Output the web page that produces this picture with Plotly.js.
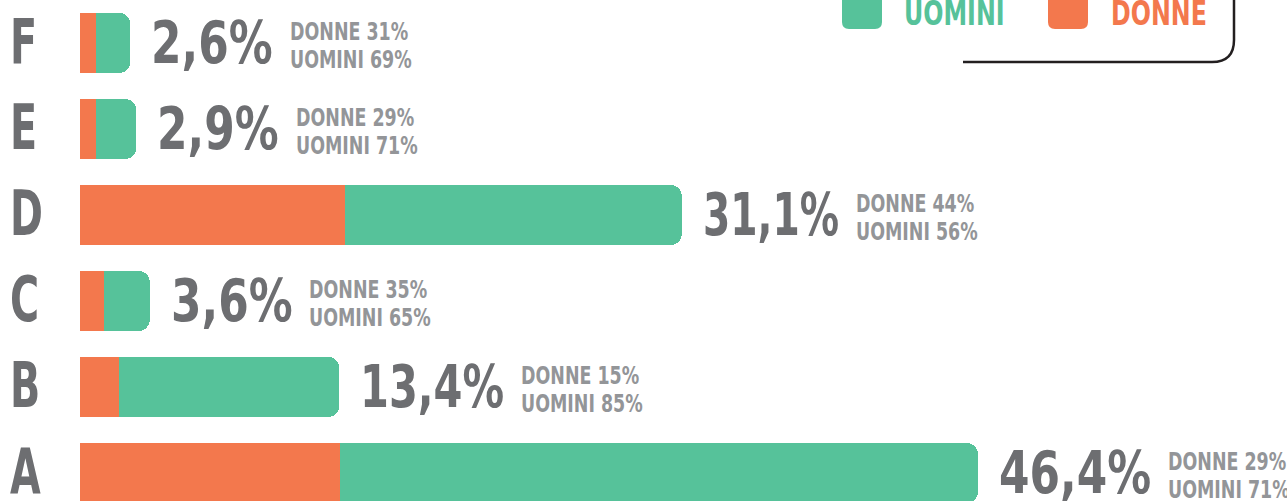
<!DOCTYPE html>
<html><head><meta charset="utf-8">
<script src="https://cdn.plot.ly/plotly-3.0.1.min.js"></script>
<style>html,body{margin:0;padding:0;background:#fff;overflow:hidden}#chart{width:1287px;height:501px;}</style>
</head><body><div id="chart"></div>
<script>
// ---- data ----
const categories = ['A', 'B', 'C', 'D', 'E', 'F'];
const totals = [46.4, 13.4, 3.6, 31.1, 2.9, 2.6];
const donneShare = [29, 15, 35, 44, 29, 31];
const uominiShare = [71, 85, 65, 56, 71, 69];
const seriesNames = ['DONNE', 'UOMINI'];
const legendOrder = ['UOMINI', 'DONNE'];

// ---- style ----
const W = 1287, H = 501;
const FONT = '"DejaVu Sans Condensed", "DejaVu Sans", sans-serif';
const ORANGE = '#f3784d', GREEN = '#56c29a', DARK = '#6d6e71', GREY = '#939598', LINE = '#231f20';
const PXU = 19.35, X0 = 80;
const BIG_SIZE = 58, SMALL_SIZE = 25, CAT_SIZE = 63, LEG_SIZE = 33;
const F_BIG = 0.84, F_SMALL = 0.775, F_CAT = 0.7, F_LEG = 0.8;
const ONE_NARROW = 8;   // the reference typeface has narrow "1" digits
const BIG_SHIFT = 19, GAP = 16;

const fmt = v => v.toFixed(1).replace('.', ',') + '%';
const donneVals = totals.map((t, i) => t * donneShare[i] / 100);
const uominiVals = totals.map((t, i) => t * uominiShare[i] / 100);
const px = x => x / W, py = y => 1 - y / H;

const traces = [
  { type: 'bar', orientation: 'h', name: seriesNames[0], y: categories, x: donneVals,
    marker: { color: ORANGE, line: { width: 0 } }, hoverinfo: 'skip' },
  { type: 'bar', orientation: 'h', name: seriesNames[1], y: categories, x: uominiVals,
    marker: { color: GREEN, line: { width: 0 } }, hoverinfo: 'skip' }
];

const annotations = [];
const role = {};
const bigIdx = [];
function add(a, r) { role[annotations.length] = r; annotations.push(Object.assign({ showarrow: false, align: 'left', borderpad: 0 }, a)); }

categories.forEach((c, i) => {
  add({ xref: 'paper', x: px(9), yref: 'y', y: c, xanchor: 'left', yanchor: 'middle', yshift: 2, text: c,
    font: { family: FONT, size: CAT_SIZE, color: DARK, weight: 'bold' } }, 'cat');
  bigIdx.push(annotations.length);
  add({ xref: 'x', x: totals[i], yref: 'y', y: c, xanchor: 'left', yanchor: 'middle', xshift: BIG_SHIFT + 1,
    text: fmt(totals[i]), font: { family: FONT, size: BIG_SIZE, color: DARK, weight: 'bold' } }, 'big');
  add({ xref: 'x', x: totals[i], yref: 'y', y: c, xanchor: 'left', yanchor: 'middle', xshift: 200, yshift: 12,
    text: seriesNames[0] + ' ' + donneShare[i] + '%', font: { family: FONT, size: SMALL_SIZE, color: GREY, weight: 'bold' } }, 'small');
  add({ xref: 'x', x: totals[i], yref: 'y', y: c, xanchor: 'left', yanchor: 'middle', xshift: 200, yshift: -16,
    text: seriesNames[1] + ' ' + uominiShare[i] + '%', font: { family: FONT, size: SMALL_SIZE, color: GREY, weight: 'bold' } }, 'small');
});

// legend (custom drawn)
const legX = [903, 1110], legColors = [GREEN, ORANGE];
legendOrder.forEach((n, k) => {
  add({ xref: 'paper', yref: 'paper', x: px(legX[k]), y: py(13), xanchor: 'left', yanchor: 'middle',
    text: n, font: { family: FONT, size: LEG_SIZE, color: legColors[k], weight: 'bold' } }, 'leg');
});
function rrect(x0, y0, x1, y1, r) {
  return 'M' + px(x0) + ',' + py(y0) + ' L' + px(x1) + ',' + py(y0) +
    ' L' + px(x1) + ',' + py(y1 - r) + ' Q' + px(x1) + ',' + py(y1) + ' ' + px(x1 - r) + ',' + py(y1) +
    ' L' + px(x0 + r) + ',' + py(y1) + ' Q' + px(x0) + ',' + py(y1) + ' ' + px(x0) + ',' + py(y1 - r) + ' Z';
}
const shapes = [
  { type: 'path', xref: 'paper', yref: 'paper', path: rrect(842, -12, 882, 29, 7), fillcolor: GREEN, line: { width: 0 } },
  { type: 'path', xref: 'paper', yref: 'paper', path: rrect(1048, -12, 1088, 29, 7), fillcolor: ORANGE, line: { width: 0 } },
  { type: 'path', xref: 'paper', yref: 'paper',
    path: 'M' + px(1234) + ',' + py(-2) + ' L' + px(1234) + ',' + py(40) + ' Q' + px(1234) + ',' + py(62) + ' ' + px(1212) + ',' + py(62) +
      ' L' + px(963) + ',' + py(62), line: { color: LINE, width: 2.5 } }
];

const layout = {
  width: W, height: H, margin: { l: 0, r: 0, t: 0, b: 0 },
  paper_bgcolor: '#ffffff', plot_bgcolor: '#ffffff',
  barmode: 'stack', bargap: 0.302, barcornerradius: 11, showlegend: false,
  xaxis: { range: [-X0 / PXU, (W - X0) / PXU], visible: false, fixedrange: true },
  yaxis: { type: 'category', range: [-0.3256, 5.5], visible: false, fixedrange: true },
  annotations, shapes
};
const factor = { cat: F_CAT, big: F_BIG, small: F_SMALL, leg: F_LEG };

function groupsOf(gd) {
  const t = {};
  gd.querySelectorAll('g.annotation').forEach(g => { t[+g.getAttribute('data-index')] = g; });
  return t;
}
function targetWidth(el, r) {
  let w = el.getComputedTextLength() * factor[r];
  if (r === 'big') w -= ONE_NARROW * (el.textContent.split('1').length - 1);
  return w;
}
function compress(gd) {
  const g = groupsOf(gd);
  Object.keys(g).forEach(i => {
    const el = g[i].querySelector('text'); if (!el) return;
    const nat = el.getComputedTextLength();
    const tw = targetWidth(el, role[i]);
    el.setAttribute('textLength', tw.toFixed(2));
    el.setAttribute('lengthAdjust', 'spacingAndGlyphs');
    g[i].querySelectorAll('rect').forEach(r => {
      const w = parseFloat(r.getAttribute('width'));
      if (!isNaN(w)) r.setAttribute('width', Math.max(1, w - (nat - tw)).toFixed(2));
    });
  });
}

Plotly.newPlot('chart', traces, layout, { displayModeBar: false, staticPlot: true }).then(gd => {
  const g = groupsOf(gd);
  const upd = {};
  bigIdx.forEach(bi => {
    const s = BIG_SHIFT + targetWidth(g[bi].querySelector('text'), 'big') + GAP + 2;
    upd['annotations[' + (bi + 1) + '].xshift'] = s;
    upd['annotations[' + (bi + 2) + '].xshift'] = s;
  });
  return Plotly.relayout(gd, upd);
}).then(gd => compress(gd));
</script></body></html>
